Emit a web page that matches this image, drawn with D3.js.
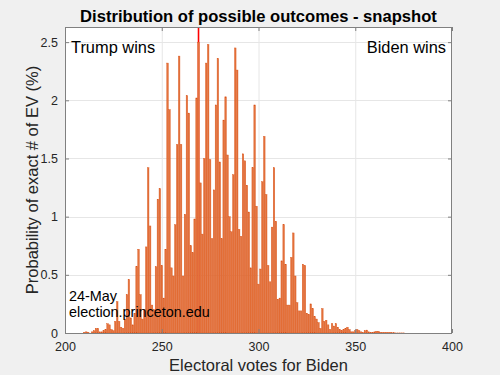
<!DOCTYPE html>
<html><head><meta charset="utf-8">
<script src="https://cdn.jsdelivr.net/npm/d3@7"></script>
<style>
html,body{margin:0;padding:0;background:#F0F0F0;}
svg{display:block;font-family:"Liberation Sans",Arial,Helvetica,sans-serif;}
</style></head>
<body>
<svg id="chart" width="500" height="375"></svg>
<script>
// Electoral votes for Biden (categories) and probability (%) of each exact count
const evStart = 210;
const probs = [
0.005,0.01,0.005,0.0,0.01,0.02,0.04,0.04,0.01,0.01,          // 210-219
0.02,0.03,0.08,0.07,0.03,0.02,0.10,0.27,0.10,0.05,           // 220-229
0.04,0.12,0.33,0.46,0.13,0.07,0.17,0.57,0.72,0.33,           // 230-239
0.12,0.20,0.74,1.42,0.92,0.24,0.20,0.57,1.15,1.24,           // 240-249
0.58,0.30,0.72,2.32,1.92,0.56,0.49,0.93,1.62,2.38,           // 250-259
1.62,0.49,1.02,2.04,1.89,0.75,0.69,0.98,2.02,2.50,           // 260-269
1.29,0.85,1.50,2.32,2.48,1.49,0.81,1.23,1.96,2.36,           // 270-279
1.47,0.81,1.83,2.03,1.53,1.00,0.87,1.36,2.45,2.26,           // 280-289
0.89,0.83,1.54,1.48,1.27,1.04,0.56,1.42,1.96,1.09,           // 290-299
0.42,0.55,1.30,1.69,1.19,0.58,0.44,0.91,1.42,0.96,           // 300-309
0.29,0.30,0.62,0.93,0.59,0.24,0.24,0.65,0.86,0.49,           // 310-319
0.26,0.19,0.19,0.59,0.58,0.17,0.16,0.25,0.21,0.14,           // 320-329
0.12,0.09,0.04,0.21,0.10,0.11,0.07,0.03,0.08,0.06,           // 330-339
0.08,0.05,0.03,0.02,0.03,0.04,0.05,0.03,0.01,0.01,           // 340-349
0.02,0.03,0.02,0.01,0.005,0.02,0.025,0.01,0.005,0.005,       // 350-359
0.01,0.015,0.015,0.005,0.003,0.003,0.003,0.002,0.002,0.002,  // 360-369
0.002,0.001,0.001,0.001,0.001,0.001                          // 370-375
];
const votes = probs.map((_, i) => evStart + i);
const xTicks = [200, 250, 300, 350, 400];
const yTicks = [0, 0.5, 1, 1.5, 2, 2.5];
const threshold = 269;
const title = "Distribution of possible outcomes - snapshot";
const xLabel = "Electoral votes for Biden";
const yLabel = "Probability of exact # of EV (%)";
const leftNote = "Trump wins", rightNote = "Biden wins";
const dateNote = "24-May", siteNote = "election.princeton.edu";

const svg = d3.select("#chart");
const L = 65, R = 452, T = 27, B = 333;
const x = d3.scaleLinear().domain([200, 400]).range([L, R]);
const y = d3.scaleLinear().domain([0, 2.63]).range([B, T]);

svg.append("rect").attr("x", L).attr("y", T).attr("width", R - L).attr("height", B - T).attr("fill", "#fff");

// grid
const g = svg.append("g");
g.selectAll(".gx").data(xTicks.slice(1, -1)).enter().append("line")
  .attr("x1", d => x(d) + 0.5).attr("x2", d => x(d) + 0.5).attr("y1", T).attr("y2", B)
  .attr("stroke", "#e6e6e6").attr("stroke-width", 1);
g.selectAll(".gy").data(yTicks.slice(1)).enter().append("line")
  .attr("x1", L).attr("x2", R).attr("y1", d => Math.round(y(d)) + 0.5).attr("y2", d => Math.round(y(d)) + 0.5)
  .attr("stroke", "#e6e6e6").attr("stroke-width", 1);

// threshold line (behind bars)
svg.append("line").attr("x1", x(threshold)).attr("x2", x(threshold)).attr("y1", T).attr("y2", B)
  .attr("stroke", "#ff0000").attr("stroke-width", 1.6);

// bars
const step = x(201) - x(200);
const bw = step * 0.8;
svg.append("g").selectAll("rect").data(votes).enter().append("rect")
  .attr("x", d => x(d) - bw / 2)
  .attr("width", bw)
  .attr("y", (d, i) => y(probs[i]))
  .attr("height", (d, i) => B - y(probs[i]))
  .attr("fill", "#E4723B")
  .attr("stroke", "#D95319")
  .attr("stroke-width", 0.4);

// axes
const axB = svg.append("g").attr("transform", `translate(0,${B})`)
  .call(d3.axisBottom(x).tickValues(xTicks).tickSize(-4).tickPadding(9).tickFormat(d3.format("d")));
const axT = svg.append("g").attr("transform", `translate(0,${T})`)
  .call(d3.axisTop(x).tickValues(xTicks).tickSize(-4).tickFormat(""));
const axL = svg.append("g").attr("transform", `translate(${L},0)`)
  .call(d3.axisLeft(y).tickValues(yTicks).tickSize(-4).tickPadding(7).tickFormat(d => d3.format("")(d)));
const axR = svg.append("g").attr("transform", `translate(${R},0)`)
  .call(d3.axisRight(y).tickValues(yTicks).tickSize(-4).tickFormat(""));
[axB, axT, axL, axR].forEach(a => {
  a.select(".domain").remove();
  a.selectAll("line").attr("stroke", "#808080");
  a.selectAll("text").attr("fill", "#262626").style("font-size", "12.5px")
    .style("font-family", "'Liberation Sans',Arial,sans-serif");
});
svg.append("rect").attr("x", L + 0.5).attr("y", T + 0.5).attr("width", R - L - 1).attr("height", B - T)
  .attr("fill", "none").attr("stroke", "#808080").attr("stroke-width", 1);

// texts
svg.append("text").attr("x", 258.5).attr("y", 22).attr("text-anchor", "middle")
  .style("font-size", "16.6px").style("font-weight", "bold").attr("fill", "#000").text(title);
svg.append("text").attr("x", (L + R) / 2).attr("y", 371).attr("text-anchor", "middle")
  .style("font-size", "16.5px").attr("fill", "#262626").text(xLabel);
svg.append("text").attr("transform", `translate(38,${(T + B) / 2}) rotate(-90)`).attr("text-anchor", "middle")
  .style("font-size", "16.5px").attr("fill", "#262626").text(yLabel);
svg.append("text").attr("x", 71).attr("y", 52.7).style("font-size", "16.4px").attr("fill", "#000").text(leftNote);
svg.append("text").attr("x", 446).attr("y", 52.7).attr("text-anchor", "end").style("font-size", "16.4px").attr("fill", "#000").text(rightNote);
svg.append("text").attr("x", 69).attr("y", 300.7).style("font-size", "14.4px").attr("fill", "#000").text(dateNote);
svg.append("text").attr("x", 69).attr("y", 316.7).style("font-size", "14.4px").attr("fill", "#000").text(siteNote);
</script>
</body></html>
